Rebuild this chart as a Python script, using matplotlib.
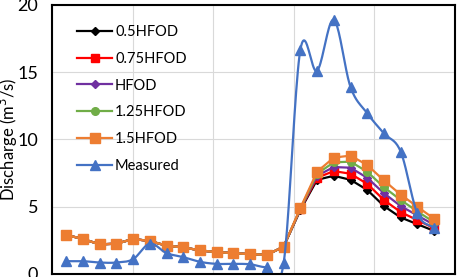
import numpy as np
import matplotlib
matplotlib.use("Agg")
import matplotlib.pyplot as plt

plt.rcParams['font.family'] = ['Lato', 'DejaVu Sans']

# shared early part (all model runs overlap there)
early = [2.9, 2.6, 2.2, 2.25, 2.6, 2.45, 2.1, 1.98, 1.75, 1.62, 1.55, 1.47, 1.42, 2.03]

hfod_05 = early + [4.75, 7.0, 7.3, 7.0, 6.25, 5.05, 4.2, 3.7, 3.2]
hfod_075 = early + [4.8, 7.15, 7.65, 7.45, 6.7, 5.5, 4.6, 4.0, 3.4]
hfod_10 = early + [4.82, 7.3, 7.95, 7.9, 7.15, 6.0, 5.05, 4.35, 3.65]
hfod_125 = early + [4.85, 7.45, 8.3, 8.35, 7.6, 6.45, 5.5, 4.65, 3.85]
hfod_15 = early + [4.9, 7.6, 8.65, 8.8, 8.1, 6.95, 5.9, 5.0, 4.1]
measured = [0.95, 0.95, 0.85, 0.85, 1.1, 2.25, 1.55, 1.25, 0.9, 0.75, 0.75, 0.72, 0.5, 0.8,
            16.65, 15.1, 18.9, 13.9, 11.95, 10.45, 9.1, 4.5, 3.4]

labels = ['0.5HFOD', '0.75HFOD', 'HFOD', '1.25HFOD', '1.5HFOD', 'Measured']
colors = ['#000000', '#FF0000', '#7030A0', '#70AD47', '#ED7D31', '#4472C4']
markers = ['D', 's', 'D', 'o', 's', '^']
msizes = [4.5, 6, 4.5, 5.5, 6.5, 7]


def smooth(x, y, n=20):
    # catmull-rom like excel smoothed line
    x = np.asarray(x, float)
    y = np.asarray(y, float)
    px = np.concatenate([[2 * x[0] - x[1]], x, [2 * x[-1] - x[-2]]])
    py = np.concatenate([[2 * y[0] - y[1]], y, [2 * y[-1] - y[-2]]])
    xs, ys = [], []
    t = np.linspace(0, 1, n, endpoint=False)
    for i in range(1, len(px) - 2):
        for p, out in ((px, xs), (py, ys)):
            p0, p1, p2, p3 = p[i - 1], p[i], p[i + 1], p[i + 2]
            out.extend(0.5 * ((2 * p1) + (-p0 + p2) * t + (2 * p0 - 5 * p1 + 4 * p2 - p3) * t ** 2
                              + (-p0 + 3 * p1 - 3 * p2 + p3) * t ** 3))
    xs.append(x[-1])
    ys.append(y[-1])
    return np.array(xs), np.array(ys)


fig = plt.figure(figsize=(4.58, 2.77), dpi=100)
ax = fig.add_axes([0.1135, 0.011, 0.88, 0.971])

x = np.arange(len(measured))
series = [hfod_05, hfod_075, hfod_10, hfod_125, hfod_15]
for s, lab, c, m, ms in zip(series, labels[:5], colors[:5], markers[:5], msizes[:5]):
    ax.plot(x, s, color=c, lw=1.6, marker=m, ms=ms, label=lab)

sx, sy = smooth(x, measured)
ax.plot(sx, sy, color=colors[5], lw=1.6)
ax.plot(x, measured, color=colors[5], lw=0, marker='^', ms=7)
ax.plot([], [], color=colors[5], lw=1.6, marker='^', ms=7, label='Measured')

ax.set_xlim(-0.85, 23.25)
ax.set_ylim(0, 20)
ax.set_xticks(np.linspace(-0.85, 23.25, 6))
ax.set_xticklabels([])
ax.set_yticks([0, 5, 10, 15, 20])
ax.tick_params(length=0, labelsize=13, pad=10)
ax.grid(True, color='#d9d9d9', lw=0.8)
ax.set_axisbelow(True)
for sp in ax.spines.values():
    sp.set_linewidth(1.5)
    sp.set_color('black')

ax.set_ylabel('Discharge (m$^3$/s)', fontsize=12, labelpad=0)
ax.yaxis.set_label_coords(-0.08, 0.5)

ax.legend(loc='upper left', frameon=False, fontsize=10.5, handlelength=2.4,
          labelspacing=0.88, borderaxespad=0.5, handletextpad=0.2,
          bbox_to_anchor=(0.03, 0.975))

fig.savefig('out.png', dpi=100)
